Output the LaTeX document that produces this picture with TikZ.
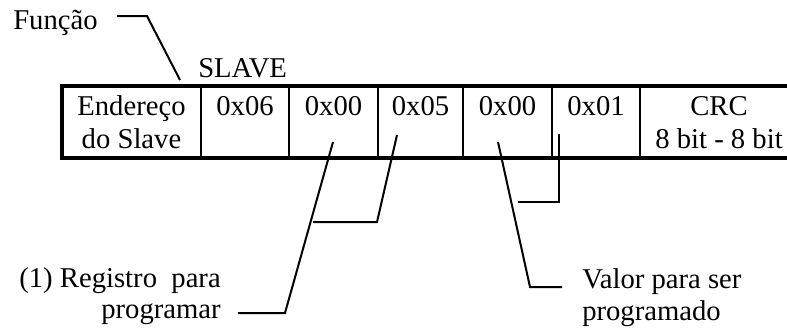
\documentclass[tikz,border=0pt]{standalone}
\usepackage{fontspec}
\setmainfont{Liberation Serif}
\begin{document}
\begin{tikzpicture}[x=0.75pt,y=-0.75pt,
  lbl/.style={font=\fontsize{21.5}{24}\selectfont, inner sep=0pt, anchor=base},
  cell/.style={draw, line width=1.6pt, rectangle, inner sep=0pt, outer sep=0pt,
               minimum height=72*0.75pt, anchor=north west},
  frame/.style={line width=3.6pt},
  leader/.style={line width=1.5pt}]
\useasboundingbox (0,0) rectangle (787,329);

% register cells of the frame
\node[cell, minimum width=139*0.75pt] (c1) at (62,86) {};
\node[cell, minimum width=88*0.75pt]  (c2) at (c1.north east) {};
\node[cell, minimum width=89*0.75pt]  (c3) at (c2.north east) {};
\node[cell, minimum width=85*0.75pt]  (c4) at (c3.north east) {};
\node[cell, minimum width=89*0.75pt]  (c5) at (c4.north east) {};
\node[cell, minimum width=88*0.75pt]  (c6) at (c5.north east) {};
\node[cell, minimum width=158*0.75pt] (c7) at (c6.north east) {};
\draw[frame] (c1.north west) rectangle (c7.south east);

% cell contents
\node[lbl] (t1a) at (c1 |- 0,115) {Endereço};
\node[lbl] (t1b) at (c1 |- 0,148) {do Slave};
\node[lbl] (t2)  at (c2 |- 0,115) {0x06};
\node[lbl] (t3)  at (c3 |- 0,115) {0x00};
\node[lbl] (t4)  at (c4 |- 0,115) {0x05};
\node[lbl] (t5)  at (c5 |- 0,115) {0x00};
\node[lbl] (t6)  at (c6 |- 0,115) {0x01};
\node[lbl] (t7a) at (c7 |- 0,115) {CRC};
\node[lbl] (t7b) at (c7 |- 0,148) {8 bit - 8 bit};

% titles and notes
\node[lbl, anchor=base west] (fn)  at (13,29) {Função};
\node[lbl, anchor=base west] (sl)  at (198,77) {SLAVE};
\node[lbl, anchor=base east] (rg1) at (221,287) {(1) Registro\ \ para};
\node[lbl, anchor=base east] (rg2) at (221,318) {programar};
\node[lbl, anchor=base west] (vl1) at (582,288) {Valor para ser};
\node[lbl, anchor=base west] (vl2) at (582,320) {programado};

% leader lines
\coordinate (fnA) at (117,16);
\coordinate (fnB) at (147,16);
\coordinate (fnC) at (180,80);
\draw[leader] (fnA) -- (fnB) -- (fnC);

\coordinate (raA) at (238,313);
\coordinate (raB) at (285,313);
\coordinate (raC) at (333,142);
\draw[leader] (raA) -- (raB) -- (raC);

\coordinate (rbA) at (313,222);
\coordinate (rbB) at (377,222);
\coordinate (rbC) at (397,135);
\draw[leader] (rbA) -- (rbB) -- (rbC);

\coordinate (vaA) at (498,142);
\coordinate (vaB) at (530,287);
\coordinate (vaC) at (562,287);
\draw[leader] (vaA) -- (vaB) -- (vaC);

\coordinate (vbA) at (518,202);
\coordinate (vbB) at (559,202);
\coordinate (vbC) at (559,134);
\draw[leader] (vbA) -- (vbB) -- (vbC);
\end{tikzpicture}
\end{document}
